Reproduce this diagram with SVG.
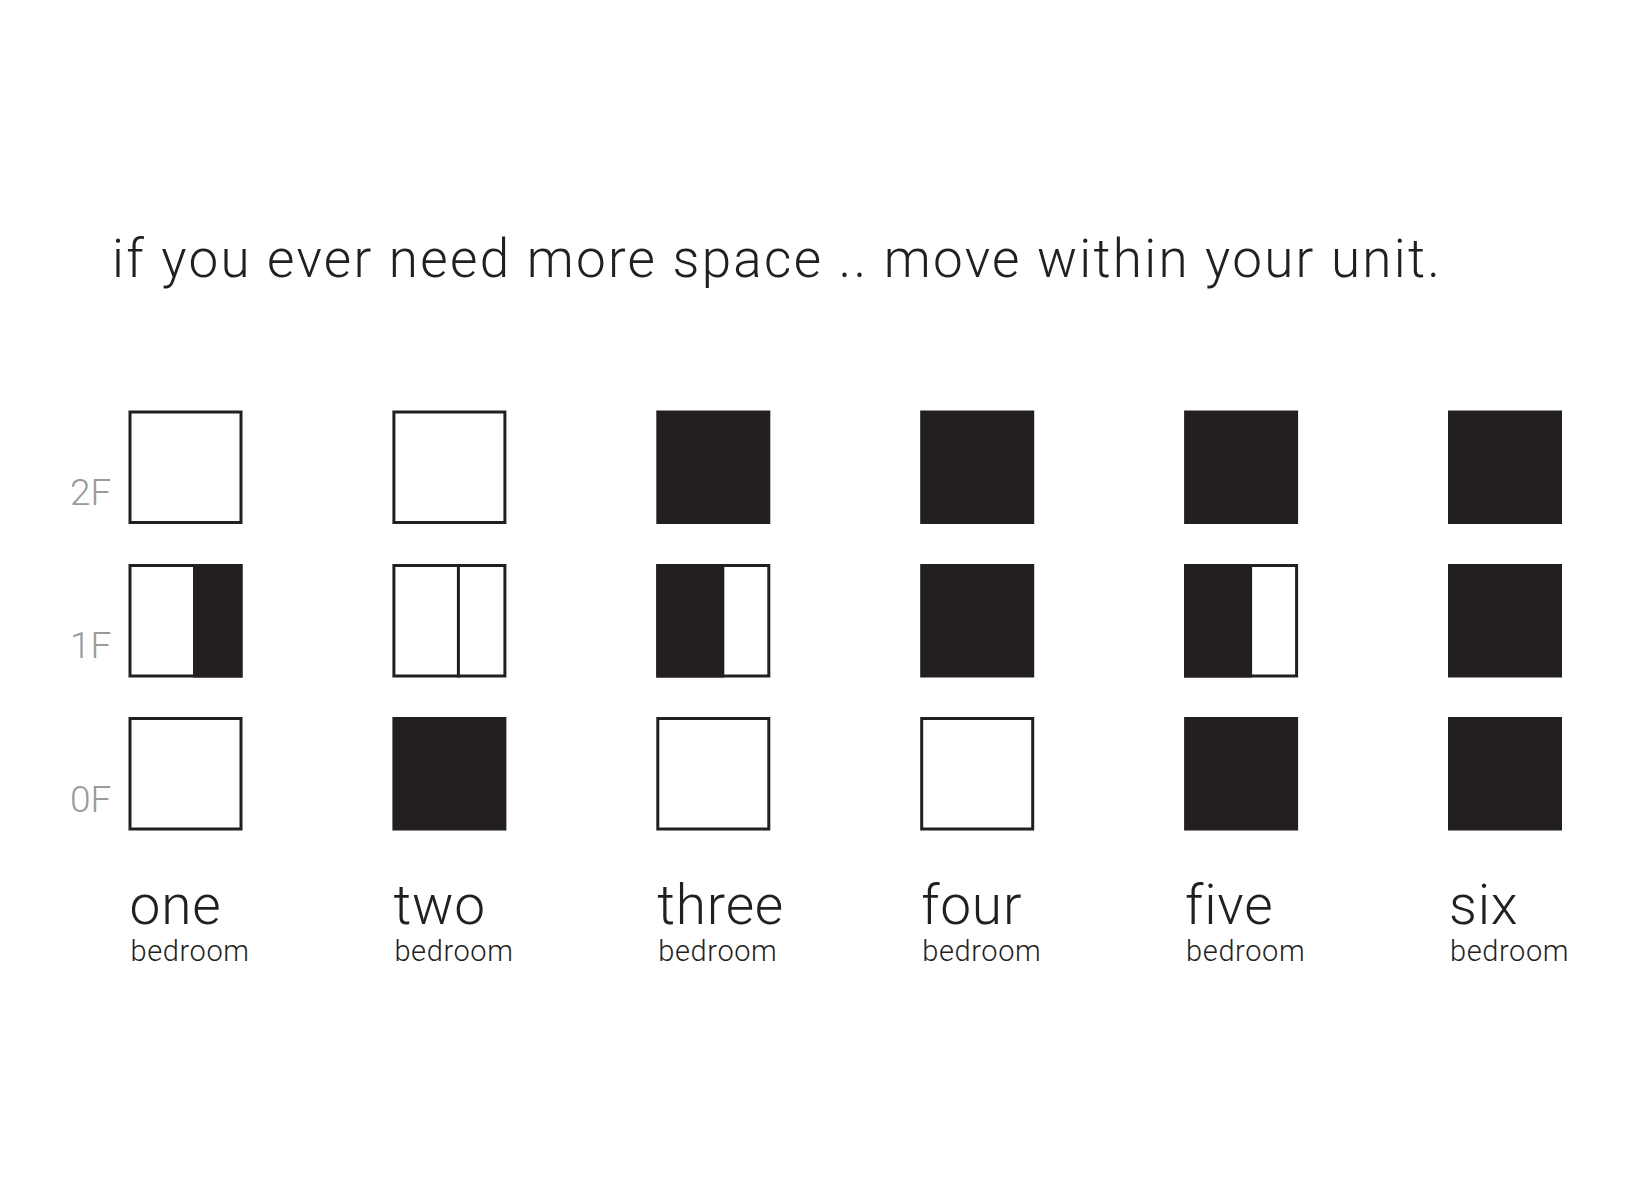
<svg xmlns="http://www.w3.org/2000/svg" width="1636" height="1200" viewBox="0 0 1636 1200">
  <style>
    .t { font-family: Roboto, "Liberation Sans", Arial, sans-serif; font-weight: 300; fill: #231f20; }
    .title { font-size: 53px; }
    .num { font-size: 55px; letter-spacing: 0.8px; }
    .sub { font-size: 29px; letter-spacing: 0.6px; }
    .floor { font-family: Roboto, "Liberation Sans", Arial, sans-serif; font-weight: 300; font-size: 37px; fill: #9a9a9a; }
    .o { fill: #ffffff; stroke: #231f20; stroke-width: 3; }
    .f { fill: #231f20; }
    .d { stroke: #231f20; stroke-width: 3; }
  </style>
  <defs>
    <rect id="outline" x="1.5" y="1.5" width="111" height="110.5" class="o"/>
    <rect id="filled" x="0" y="0" width="114" height="113.5" class="f"/>
  </defs>
  <rect width="1636" height="1200" fill="#ffffff"/>

  <text class="t title" x="112" y="277" textLength="1328" lengthAdjust="spacing">if you ever need more space .. move within your unit.</text>

  <g id="floor-labels">
    <text class="floor" x="70" y="505">2F</text>
    <text class="floor" x="70" y="658">1F</text>
    <text class="floor" x="70" y="812">0F</text>
  </g>

  <g id="one-bedroom" transform="translate(128.5,0)">
    <use href="#outline" y="410.5"/>
    <use href="#outline" y="564"/>
    <rect x="64.5" y="564" width="49.5" height="113.5" class="f"/>
    <use href="#outline" y="717"/>
    <text class="t num" x="1" y="924">one</text>
    <text class="t sub" x="2" y="961">bedroom</text>
  </g>

  <g id="two-bedroom" transform="translate(392.4,0)">
    <use href="#outline" y="410.5"/>
    <use href="#outline" y="564"/>
    <line x1="66" y1="564" x2="66" y2="677.5" class="d"/>
    <use href="#filled" y="717"/>
    <text class="t num" x="1" y="924">two</text>
    <text class="t sub" x="2" y="961">bedroom</text>
  </g>

  <g id="three-bedroom" transform="translate(656.3,0)">
    <use href="#filled" y="410.5"/>
    <use href="#outline" y="564"/>
    <rect x="0" y="564" width="68" height="113.5" class="f"/>
    <use href="#outline" y="717"/>
    <text class="t num" x="1" y="924">three</text>
    <text class="t sub" x="2" y="961">bedroom</text>
  </g>

  <g id="four-bedroom" transform="translate(920.2,0)">
    <use href="#filled" y="410.5"/>
    <use href="#filled" y="564"/>
    <use href="#outline" y="717"/>
    <text class="t num" x="1" y="924">four</text>
    <text class="t sub" x="2" y="961">bedroom</text>
  </g>

  <g id="five-bedroom" transform="translate(1184.1,0)">
    <use href="#filled" y="410.5"/>
    <use href="#outline" y="564"/>
    <rect x="0" y="564" width="68" height="113.5" class="f"/>
    <use href="#filled" y="717"/>
    <text class="t num" x="1" y="924">five</text>
    <text class="t sub" x="2" y="961">bedroom</text>
  </g>

  <g id="six-bedroom" transform="translate(1448,0)">
    <use href="#filled" y="410.5"/>
    <use href="#filled" y="564"/>
    <use href="#filled" y="717"/>
    <text class="t num" x="1" y="924">six</text>
    <text class="t sub" x="2" y="961">bedroom</text>
  </g>

  <g id="connectors"/>
</svg>
